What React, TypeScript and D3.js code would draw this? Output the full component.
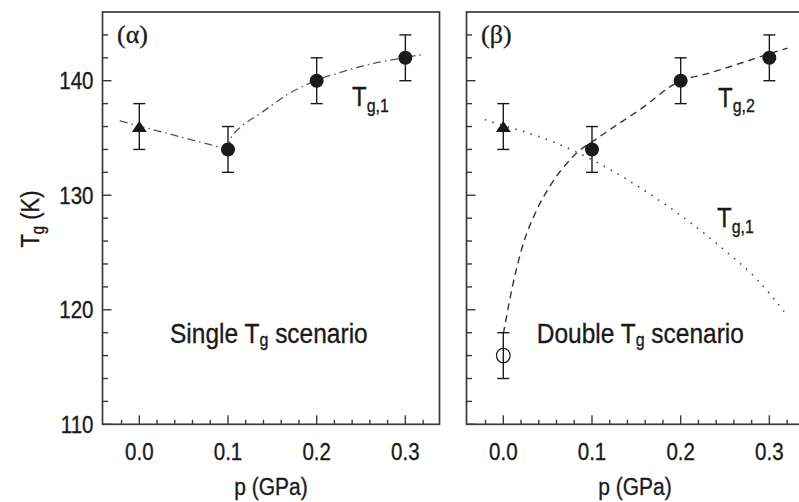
import React, { useEffect } from "react";
import * as d3 from "d3";

// ---- data ----
const xTickValues = [0.0, 0.1, 0.2, 0.3];
const xTickLabels = ["0.0", "0.1", "0.2", "0.3"];
const xMinorTicks = [-0.02, 0.02, 0.04, 0.06, 0.08, 0.12, 0.14, 0.16, 0.18, 0.22, 0.24, 0.26, 0.28, 0.32];
const yTickValues = [110, 120, 130, 140];
const yTickLabels = ["110", "120", "130", "140"];
const yMinorTicks = [112, 114, 116, 118, 122, 124, 126, 128, 132, 134, 136, 138, 142, 144];

// triangle point (p = 0)
const triP = [0.0];
const triTg = [136];
const triErr = [2];
// filled circles
const circP = [0.1, 0.2, 0.3];
const circTg = [134, 140, 142];
const circErr = [2, 2, 2];
// open circle (double Tg scenario only)
const openP = [0.0];
const openTg = [116];
const openErr = [2];

// single-Tg dash-dot guide (two pieces)
const singleAP = [-0.022, 0.1];
const singleATg = [136.5, 134.0];
const singleBP = [0.1, 0.103, 0.108, 0.115, 0.1376, 0.164, 0.198, 0.2315, 0.258, 0.288, 0.32];
const singleBTg = [134.0, 134.9, 135.5, 136.0, 137.2, 138.65, 139.97, 140.84, 141.4, 141.86, 142.3];

// double-Tg dashed guide (Tg,2)
const tg2P = [0.0, 0.0027, 0.0068, 0.0207, 0.0376, 0.0526, 0.0789, 0.1093, 0.1544, 0.2, 0.2292, 0.2665, 0.3, 0.3205];
const tg2Tg = [117.9, 119.0, 120.7, 125.3, 128.7, 130.8, 133.4, 135.15, 137.5, 140.0, 140.6, 141.5, 142.35, 142.85];

// double-Tg dotted guide (Tg,1)
const tg1P = [-0.021, 0.0, 0.041, 0.079, 0.1, 0.139, 0.173, 0.211, 0.248, 0.2867, 0.3167];
const tg1Tg = [136.6, 136.1, 135.1, 133.9, 133.1, 131.4, 129.7, 127.6, 125.3, 122.6, 119.85];

// ---- layout ----
const W = 799;
const H = 502;
const PANEL_W = 337;
const TOP = 12;
const BOTTOM = 424.3;
const PANELS = [
  { x0: 102.5, tag: "(α)", scenario: "Single", yLabels: true },
  { x0: 466.5, tag: "(β)", scenario: "Double", yLabels: false },
];
const SY = 1.15;
const SANS = "'Liberation Sans', Arial, Helvetica, sans-serif";
const SERIF = "'Liberation Serif', 'Times New Roman', serif";
const INK = "#1a1a1a";
const FRAME = "#3a3a3a";

const yScale = d3.scaleLinear().domain([110, 146]).range([BOTTOM, TOP]);

function STxt(props: any) {
  const { x, y, anchor = "start", size, family = SANS, children, sy = SY } = props;
  return (
    <text
      transform={`translate(${x},${y}) scale(1,${sy})`}
      textAnchor={anchor}
      fontSize={size}
      fontFamily={family}
      fill={INK}
      stroke={INK}
      strokeWidth={0.3}
    >
      {children}
    </text>
  );
}

function ErrBar({ x, tg, err }: any) {
  const y1 = yScale(tg - err);
  const y2 = yScale(tg + err);
  const cw = 6;
  return (
    <g stroke={INK} strokeWidth={1.4} fill="none">
      <line x1={x} x2={x} y1={y1} y2={y2} />
      <line x1={x - cw} x2={x + cw} y1={y1} y2={y1} />
      <line x1={x - cw} x2={x + cw} y1={y2} y2={y2} />
    </g>
  );
}

function TgLabel({ x, y, sub }: any) {
  return (
    <STxt x={x} y={y} size={24}>
      T
      <tspan fontSize={16} dy={5}>
        {sub}
      </tspan>
    </STxt>
  );
}

function Panel({ cfg, idx }: any) {
  const x = d3.scaleLinear().domain([-0.0415, 0.3385]).range([cfg.x0, cfg.x0 + PANEL_W]);
  const lineGen = (ps: number[], ts: number[], curve: any) =>
    d3
      .line<number>()
      .x((_, i) => x(ps[i]))
      .y((_, i) => yScale(ts[i]))
      .curve(curve)(ps) as string;
  const cx = cfg.x0 + PANEL_W / 2;
  const triPath = (px: number, py: number) => {
    const w = 7.5;
    const h = 11;
    return `M${px},${py - h / 2}L${px + w},${py + h / 2}L${px - w},${py + h / 2}Z`;
  };
  return (
    <g>
      {/* guide curves */}
      {idx === 0 ? (
        <g fill="none" stroke="#555" strokeWidth={1.3} strokeDasharray="8,4,1.5,4">
          <path d={lineGen(singleAP, singleATg, d3.curveLinear)} />
          <path d={lineGen(singleBP, singleBTg, d3.curveMonotoneX)} />
        </g>
      ) : (
        <g fill="none">
          <path d={lineGen(tg2P, tg2Tg, d3.curveMonotoneX)} stroke="#333" strokeWidth={1.4} strokeDasharray="7,5" />
          <path
            d={lineGen(tg1P, tg1Tg, d3.curveMonotoneX)}
            stroke="#444"
            strokeWidth={1.6}
            strokeDasharray="1.5,6.5"
          />
        </g>
      )}

      {/* error bars */}
      {triP.map((p, i) => (
        <ErrBar key={"te" + i} x={x(p)} tg={triTg[i]} err={triErr[i]} />
      ))}
      {circP.map((p, i) => (
        <ErrBar key={"ce" + i} x={x(p)} tg={circTg[i]} err={circErr[i]} />
      ))}
      {idx === 1 &&
        openP.map((p, i) => <ErrBar key={"oe" + i} x={x(p)} tg={openTg[i]} err={openErr[i]} />)}

      {/* markers */}
      {triP.map((p, i) => (
        <path key={"t" + i} d={triPath(x(p), yScale(triTg[i]))} fill={INK} />
      ))}
      {circP.map((p, i) => (
        <circle key={"c" + i} cx={x(p)} cy={yScale(circTg[i])} r={7} fill={INK} />
      ))}
      {idx === 1 &&
        openP.map((p, i) => (
          <ellipse
            key={"o" + i}
            cx={x(p)}
            cy={yScale(openTg[i])}
            rx={6.8}
            ry={7.3}
            fill="none"
            stroke={INK}
            strokeWidth={1.2}
          />
        ))}

      {/* frame */}
      <rect
        x={cfg.x0}
        y={TOP}
        width={PANEL_W}
        height={BOTTOM - TOP}
        fill="none"
        stroke={FRAME}
        strokeWidth={1.7}
      />

      {/* ticks */}
      <g stroke={FRAME} strokeWidth={1.4}>
        {xTickValues.map((v) => (
          <line key={"xt" + v} x1={x(v)} x2={x(v)} y1={BOTTOM} y2={BOTTOM - 9} />
        ))}
        {xMinorTicks.map((v) => (
          <line key={"xm" + v} x1={x(v)} x2={x(v)} y1={BOTTOM} y2={BOTTOM - 4.5} />
        ))}
        {yTickValues.map((v) => (
          <line key={"yt" + v} x1={cfg.x0} x2={cfg.x0 + 9} y1={yScale(v)} y2={yScale(v)} />
        ))}
        {yMinorTicks.map((v) => (
          <line key={"ym" + v} x1={cfg.x0} x2={cfg.x0 + 5.5} y1={yScale(v)} y2={yScale(v)} />
        ))}
      </g>

      {/* tick labels */}
      {xTickValues.map((v, i) => (
        <STxt key={"xl" + v} x={x(v)} y={460} anchor="middle" size={20.5}>
          {xTickLabels[i]}
        </STxt>
      ))}
      {cfg.yLabels &&
        yTickValues.map((v, i) => (
          <STxt key={"yl" + v} x={cfg.x0 - 9} y={yScale(v) + 8.5} anchor="end" size={20.5}>
            {yTickLabels[i]}
          </STxt>
        ))}

      {/* axis title */}
      <STxt x={cx} y={495} anchor="middle" size={21}>
        p (GPa)
      </STxt>

      {/* panel tag */}
      <STxt x={cfg.x0 + 14.5} y={42.5} size={26} family={SERIF} sy={1}>
        {cfg.tag}
      </STxt>

      {/* scenario text */}
      <STxt x={idx === 0 ? 170 : 536.7} y={343} size={24.5}>
        {cfg.scenario} T
        <tspan fontSize={16} dy={3}>
          g
        </tspan>
        <tspan dy={-3}> scenario</tspan>
      </STxt>

      {/* curve labels */}
      {idx === 0 ? (
        <TgLabel x={352} y={106} sub="g,1" />
      ) : (
        <g>
          <TgLabel x={718} y={106.5} sub="g,2" />
          <TgLabel x={717} y={227} sub="g,1" />
        </g>
      )}
    </g>
  );
}

export default function App() {
  useEffect(() => {
    document.body.style.margin = "0";
  }, []);
  return (
    <svg
      width={W}
      height={H}
      viewBox={`0 0 ${W} ${H}`}
      style={{ position: "absolute", left: 0, top: 0, background: "#fff" }}
    >
      <rect x={0} y={0} width={W} height={H} fill="#fff" />
      {PANELS.map((cfg, i) => (
        <Panel key={i} cfg={cfg} idx={i} />
      ))}
      {/* y axis title */}
      <g transform={`translate(39,219) rotate(-90) scale(1,1.2)`}>
        <text textAnchor="middle" fontSize={22} fontFamily={SANS} fill={INK} stroke={INK} strokeWidth={0.3}>
          T
          <tspan fontSize={15} dy={4}>
            g
          </tspan>
          <tspan dy={-4}> (K)</tspan>
        </text>
      </g>
    </svg>
  );
}
